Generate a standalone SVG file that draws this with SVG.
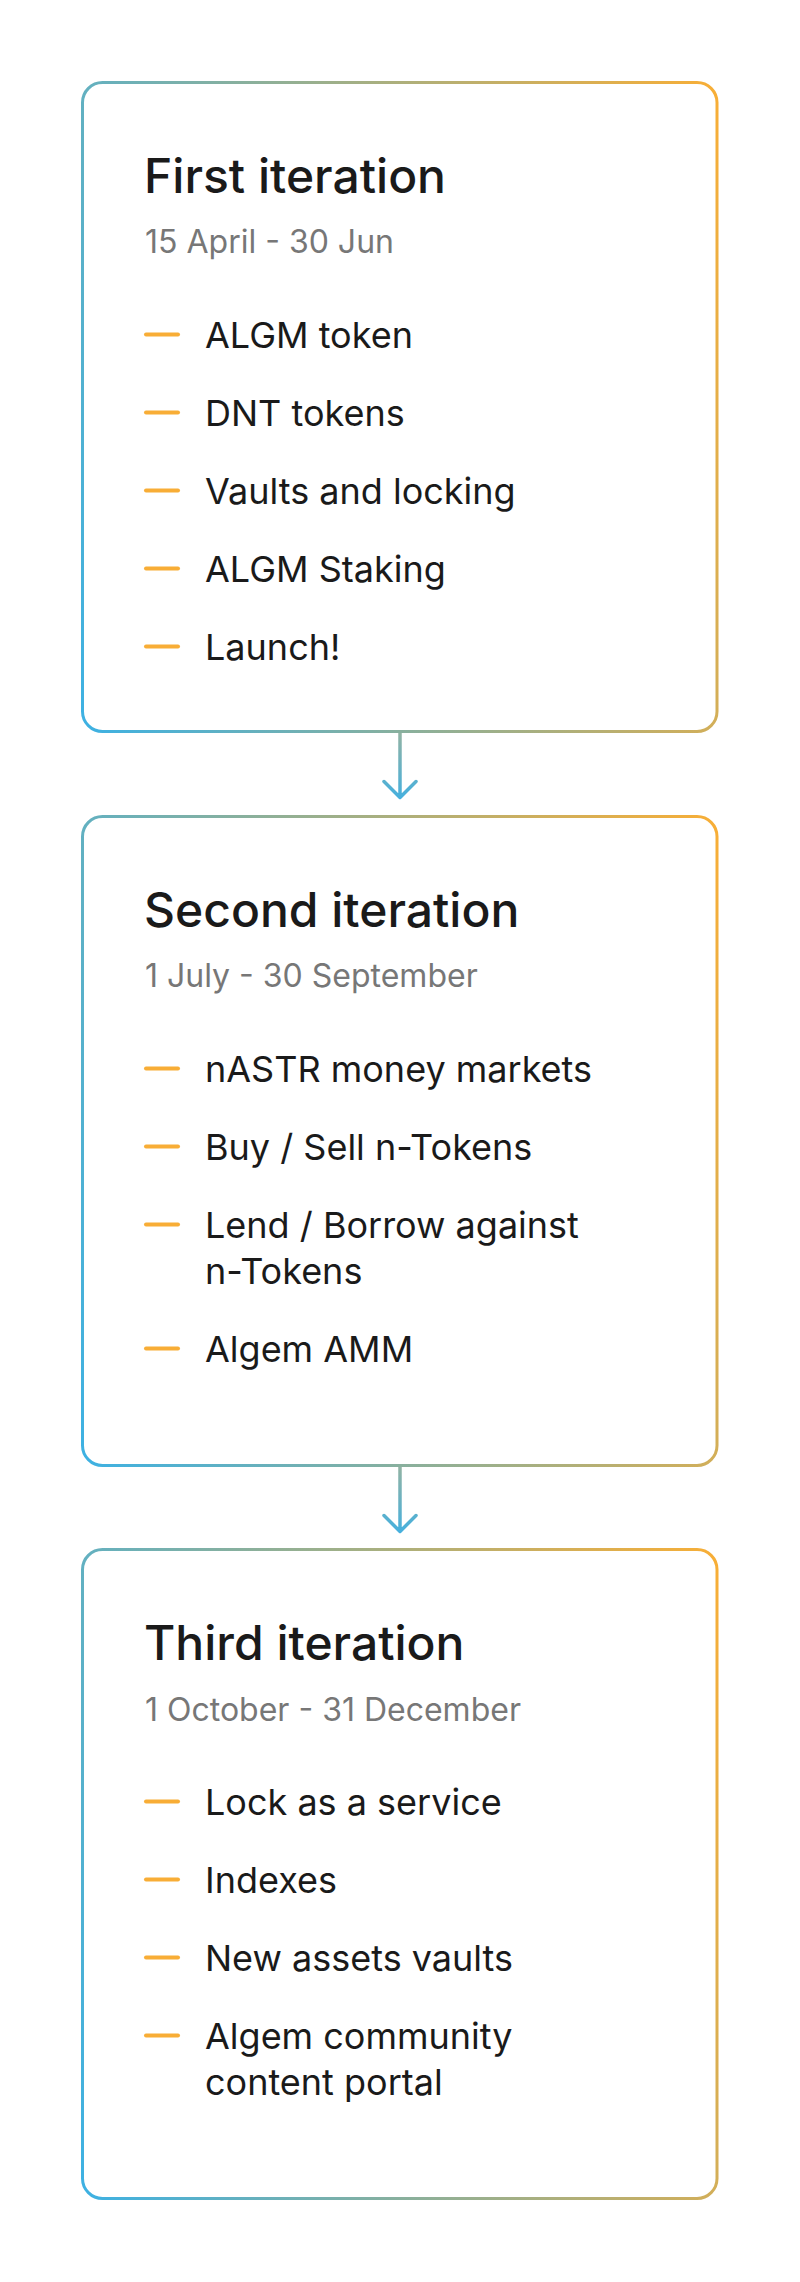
<svg xmlns="http://www.w3.org/2000/svg" width="800" height="2282" viewBox="0 0 800 2282">
<defs>
<linearGradient id="boxGrad" x1="0" y1="1" x2="1.176" y2="0.706">
<stop offset="0" stop-color="#3db1e3"/>
<stop offset="1" stop-color="#f8ae36"/>
</linearGradient>
<linearGradient id="arrowGrad" x1="0" y1="0" x2="0" y2="1">
<stop offset="0" stop-color="#93b3a2"/>
<stop offset="1" stop-color="#47b0dd"/>
</linearGradient>
<style>
.box{fill:#ffffff;stroke:url(#boxGrad);stroke-width:3}
.title{font-family:Inter,"Liberation Sans",sans-serif;font-size:48px;font-weight:500;fill:#1a1a1a}
.date{font-family:Inter,"Liberation Sans",sans-serif;font-size:32px;fill:#777777}
.item{font-family:Inter,"Liberation Sans",sans-serif;font-size:36px;font-weight:400;fill:#1a1a1a}
.dash{stroke:#f8ad36;stroke-width:4;stroke-linecap:round}
.arrow{fill:none;stroke:url(#arrowGrad);stroke-width:3.5;stroke-linecap:round;stroke-linejoin:round}
</style>
</defs>
<rect width="800" height="2282" fill="#ffffff"/>
<g id="connectors">
<path class="arrow" d="M400 731.5 V797 M384 781.5 L400 797.5 L416 781.5"/>
<path class="arrow" d="M400 1465.5 V1531 M384 1515.5 L400 1531.5 L416 1515.5"/>
</g>
<g id="node-first">
<rect class="box" x="82.5" y="82.5" width="634.5" height="649" rx="20"/>
<text class="title" x="144" y="192.5">First iteration</text>
<text class="date" x="145" y="253">15 April - 30 Jun</text>
<line class="dash" x1="146" y1="334.5" x2="178" y2="334.5"/>
<text class="item" x="205" y="348">ALGM token</text>
<line class="dash" x1="146" y1="412.5" x2="178" y2="412.5"/>
<text class="item" x="205" y="426">DNT tokens</text>
<line class="dash" x1="146" y1="490.5" x2="178" y2="490.5"/>
<text class="item" x="205" y="504">Vaults and locking</text>
<line class="dash" x1="146" y1="568.5" x2="178" y2="568.5"/>
<text class="item" x="205" y="582">ALGM Staking</text>
<line class="dash" x1="146" y1="646.5" x2="178" y2="646.5"/>
<text class="item" x="205" y="660">Launch!</text>
</g>
<g id="node-second">
<rect class="box" x="82.5" y="816.5" width="634.5" height="649" rx="20"/>
<text class="title" x="144" y="926.5">Second iteration</text>
<text class="date" x="145" y="987">1 July - 30 September</text>
<line class="dash" x1="146" y1="1068.5" x2="178" y2="1068.5"/>
<text class="item" x="205" y="1082">nASTR money markets</text>
<line class="dash" x1="146" y1="1146.5" x2="178" y2="1146.5"/>
<text class="item" x="205" y="1160">Buy / Sell n-Tokens</text>
<line class="dash" x1="146" y1="1224.5" x2="178" y2="1224.5"/>
<text class="item" x="205" y="1238">Lend / Borrow against</text>
<text class="item" x="205" y="1284">n-Tokens</text>
<line class="dash" x1="146" y1="1348.5" x2="178" y2="1348.5"/>
<text class="item" x="205" y="1362">Algem AMM</text>
</g>
<g id="node-third">
<rect class="box" x="82.5" y="1549.5" width="634.5" height="649" rx="20"/>
<text class="title" x="144" y="1659.5">Third iteration</text>
<text class="date" x="145" y="1721">1 October - 31 December</text>
<line class="dash" x1="146" y1="1801.5" x2="178" y2="1801.5"/>
<text class="item" x="205" y="1815">Lock as a service</text>
<line class="dash" x1="146" y1="1879.5" x2="178" y2="1879.5"/>
<text class="item" x="205" y="1893">Indexes</text>
<line class="dash" x1="146" y1="1957.5" x2="178" y2="1957.5"/>
<text class="item" x="205" y="1971">New assets vaults</text>
<line class="dash" x1="146" y1="2035.5" x2="178" y2="2035.5"/>
<text class="item" x="205" y="2049">Algem community</text>
<text class="item" x="205" y="2095">content portal</text>
</g>
</svg>
